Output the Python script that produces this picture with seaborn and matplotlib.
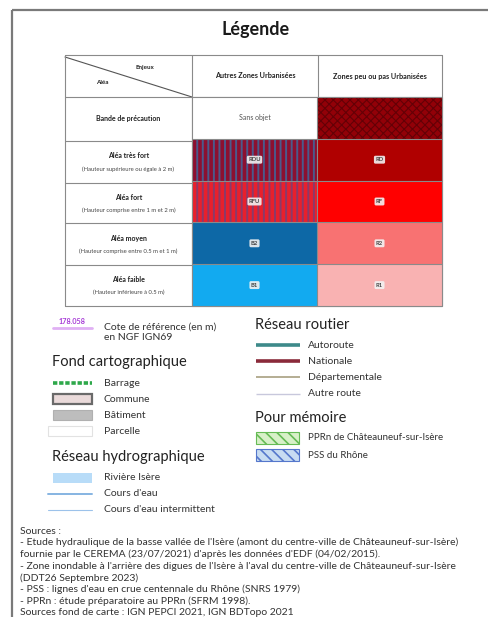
import numpy as np
import pandas as pd
import matplotlib
matplotlib.use("Agg")
import matplotlib.pyplot as plt
from matplotlib.patches import Rectangle
from matplotlib.colors import ListedColormap
import seaborn as sns

sns.set_theme(style="white")
plt.rcParams['font.family'] = ['Lato', 'DejaVu Sans']
plt.rcParams['hatch.linewidth'] = 1.4

# ---------------- data ----------------
title = "Légende"
col_labels = ["Autres Zones Urbanisées", "Zones peu ou pas Urbanisées"]
row_labels = ["Bande de précaution", "Aléa très fort", "Aléa fort", "Aléa moyen", "Aléa faible"]
row_sublabels = ["", "(Hauteur supérieure ou égale à 2 m)", "(Hauteur comprise entre 1 m et 2 m)",
                 "(Hauteur comprise entre 0.5 m et 1 m)", "(Hauteur inférieure à 0.5 m)"]
cell_colors = ["#ffffff", "#920008",
               "#8c1030", "#b00000",
               "#e8202c", "#ff0000",
               "#0d68a6", "#f87272",
               "#12aaf0", "#f9b2b2"]
cell_hatches = ["", "xxxx", "|||", "", "|||", "", "", "", "", ""]
cell_hatch_colors = ["none", "#640006", "#4a5a8c", "none", "#8a3a6a", "none", "none", "none", "none", "none"]
cell_hatch_widths = [0, 0.8, 1.4, 0, 1.4, 0, 0, 0, 0, 0]
cell_codes = ["Sans objet", "", "RDU", "RD", "RFU", "RF", "B2", "R2", "B1", "R1"]

cote_symbol = "178.058"
cote_label = ["Cote de référence (en m)", "en NGF IGN69"]

fond_title = "Fond cartographique"
fond_items = ["Barrage", "Commune", "Bâtiment", "Parcelle"]
hydro_title = "Réseau hydrographique"
hydro_items = ["Rivière Isère", "Cours d'eau", "Cours d'eau intermittent"]
routier_title = "Réseau routier"
routier_items = ["Autoroute", "Nationale", "Départementale", "Autre route"]
routier_colors = ["#3d8a8a", "#8a2a3a", "#a8a080", "#c8c8dc"]
routier_widths = [2.6, 2.6, 1.2, 1.0]
memoire_title = "Pour mémoire"
memoire_items = ["PPRn de Châteauneuf-sur-Isère", "PSS du Rhône"]
memoire_fill = ["#d8f0c8", "#c8dcf2"]
memoire_hatch = ["#66bb55", "#5577cc"]

sources = [
    "Sources :",
    "- Etude hydraulique de la basse vallée de l'Isère (amont du centre-ville de Châteauneuf-sur-Isère)",
    "fournie par le CEREMA (23/07/2021) d'après les données d'EDF (04/02/2015).",
    "- Zone inondable à l'arrière des digues de l'Isère à l'aval du centre-ville de Châteauneuf-sur-Isère",
    "(DDT26 Septembre 2023)",
    "- PSS : lignes d'eau en crue centennale du Rhône (SNRS 1979)",
    "- PPRn : étude préparatoire au PPRn (SFRM 1998).",
    "Sources fond de carte : IGN PEPCI 2021, IGN BDTopo 2021",
]

# ---------------- figure ----------------
W, H = 489, 617
fig = plt.figure(figsize=(W / 100, H / 100), dpi=100)
fig.patch.set_facecolor("white")
ax = fig.add_axes([0, 0, 1, 1])
ax.set_xlim(0, W)
ax.set_ylim(H, 0)
ax.axis("off")

# frame (top + left)
ax.plot([12, W], [10, 10], color="#7a7a7a", lw=1.6, solid_capstyle="butt")
ax.plot([12, 12], [10, H], color="#7a7a7a", lw=1.6, solid_capstyle="butt")

ax.text(256, 30, title, ha="center", va="center", fontsize=13, fontweight="bold", color="#1a1a1a")

# table geometry
xe = [65, 192, 318, 442]
ye = [55, 97, 141, 183, 223, 265, 306]
gc = "#8a8a8a"

# heatmap for the coloured cells
hx = fig.add_axes([xe[1] / W, 1 - ye[-1] / H, (xe[-1] - xe[1]) / W, (ye[-1] - ye[1]) / H])
grid = pd.DataFrame(np.arange(len(cell_colors)).reshape(len(row_labels), len(col_labels)),
                    index=row_labels, columns=col_labels)
sns.heatmap(grid, ax=hx, cmap=ListedColormap(cell_colors), cbar=False,
            linewidths=0, vmin=-0.5, vmax=len(cell_colors) - 0.5)
hx.set_xticks([])
hx.set_yticks([])
hx.set_xlabel("")
hx.set_ylabel("")
for k, (h, hc, hw, code) in enumerate(zip(cell_hatches, cell_hatch_colors, cell_hatch_widths, cell_codes)):
    r, c = divmod(k, len(col_labels))
    if h:
        with plt.rc_context({"hatch.linewidth": hw}):
            p = Rectangle((c, r), 1, 1, fc="none", ec=hc, lw=0, hatch=h)
            hx.add_patch(p)
    if code == "Sans objet":
        hx.text(c + 0.5, r + 0.5, code, ha="center", va="center", fontsize=5, color="#555")
    elif code:
        hx.text(c + 0.5, r + 0.5, code, ha="center", va="center", fontsize=4.2, color="#444",
                fontweight="bold",
                bbox=dict(boxstyle="round,pad=0.25", fc="#f2f2f2", ec="none", alpha=0.9))

# table lines
for x in xe:
    ax.plot([x, x], [ye[0], ye[-1]], color=gc, lw=0.8, zorder=5)
for y in ye:
    ax.plot([xe[0], xe[-1]], [y, y], color=gc, lw=0.8, zorder=5)
ax.plot([xe[0], xe[1]], [ye[0] + 2, ye[1]], color="#555", lw=0.8)
ax.text(145, 67, "Enjeux", ha="center", va="center", fontsize=4.5, fontweight="bold", color="#222")
ax.text(102, 82, "Aléa", ha="center", va="center", fontsize=4.5, fontweight="bold", color="#222")
for i, lab in enumerate(col_labels):
    ax.text((xe[i + 1] + xe[i + 2]) / 2, 76, lab, ha="center", va="center",
            fontsize=5.2, fontweight="bold", color="#222")
for i, (lab, sub) in enumerate(zip(row_labels, row_sublabels)):
    yc = (ye[i + 1] + ye[i + 2]) / 2
    if sub:
        ax.text(128.5, yc - 6, lab, ha="center", va="center", fontsize=5, fontweight="bold", color="#222")
        ax.text(128.5, yc + 7, sub, ha="center", va="center", fontsize=4.2, color="#444")
    else:
        ax.text(128.5, yc, lab, ha="center", va="center", fontsize=5, fontweight="bold", color="#222")

# table grid lines drawn over the heatmap axes too
for x in [0, 1, 2]:
    hx.plot([x, x], [0, 5], color=gc, lw=0.8, clip_on=False, zorder=5)
for y in range(6):
    hx.plot([0, 2], [y, y], color=gc, lw=0.8, clip_on=False, zorder=5)

# cote de référence
ax.text(72, 322, cote_symbol, ha="center", va="center", fontsize=5.2, color="#a63ad6", fontweight="bold")
ax.plot([53, 92], [328, 328], color="#e0b0f4", lw=2)
lab_fs = 7.5
head_fs = 10.5
ax.text(104, 327, cote_label[0], ha="left", va="center", fontsize=lab_fs, color="#333")
ax.text(104, 338, cote_label[1], ha="left", va="center", fontsize=lab_fs, color="#333")

# fond cartographique
ax.text(52, 362, fond_title, ha="left", va="center", fontsize=head_fs, color="#222")
fy = [383, 399, 415, 431]
ax.plot([53, 92], [fy[0], fy[0]], color="#2ea84a", lw=2.6, linestyle=(0, (1.2, 0.5)))
ax.add_patch(Rectangle((53, fy[1] - 5), 39, 10, fc="#eadada", ec="#6a6a6a", lw=1.6))
ax.add_patch(Rectangle((53, fy[2] - 5), 39, 10, fc="#bdbdbd", ec="#b0b0b0", lw=0.8))
ax.add_patch(Rectangle((48, fy[3] - 5), 44, 10, fc="white", ec="#e2e2e2", lw=0.8))
for y, lab in zip(fy, fond_items):
    ax.text(104, y, lab, ha="left", va="center", fontsize=lab_fs, color="#333")

# réseau hydrographique
ax.text(52, 457, hydro_title, ha="left", va="center", fontsize=head_fs, color="#222")
hy = [478, 494, 510]
ax.add_patch(Rectangle((53, hy[0] - 5), 39, 10, fc="#b8dcf8", ec="none"))
ax.plot([48, 92], [hy[1], hy[1]], color="#86b4e2", lw=1.4)
ax.plot([48, 92], [hy[2], hy[2]], color="#9cc2ea", lw=0.8)
for y, lab in zip(hy, hydro_items):
    ax.text(104, y, lab, ha="left", va="center", fontsize=lab_fs, color="#333")

# réseau routier
ax.text(255, 325, routier_title, ha="left", va="center", fontsize=head_fs, color="#222")
ry = [345, 361, 377, 394]
for y, lab, c, w in zip(ry, routier_items, routier_colors, routier_widths):
    ax.plot([256, 300], [y, y], color=c, lw=w, solid_capstyle="butt")
    ax.text(308, y, lab, ha="left", va="center", fontsize=lab_fs, color="#333")

# pour mémoire
ax.text(255, 418, memoire_title, ha="left", va="center", fontsize=head_fs, color="#222")
my = [438, 455]
for y, lab, fc, hc in zip(my, memoire_items, memoire_fill, memoire_hatch):
    ax.add_patch(Rectangle((256, y - 6), 43, 12, fc=fc, ec="none"))
    with plt.rc_context({"hatch.linewidth": 1.2}):
        ax.add_patch(Rectangle((256, y - 6), 43, 12, fc="none", ec=hc, lw=0.8, hatch="\\\\\\"))
    ax.text(308, y, lab, ha="left", va="center", fontsize=lab_fs - 0.5, color="#333")

# sources
sy0, sdy = 531, 11.7
for i, line in enumerate(sources):
    ax.text(20, sy0 + i * sdy, line, ha="left", va="center", fontsize=7.5, color="#333")

fig.savefig("out.png", dpi=100, facecolor="white")
